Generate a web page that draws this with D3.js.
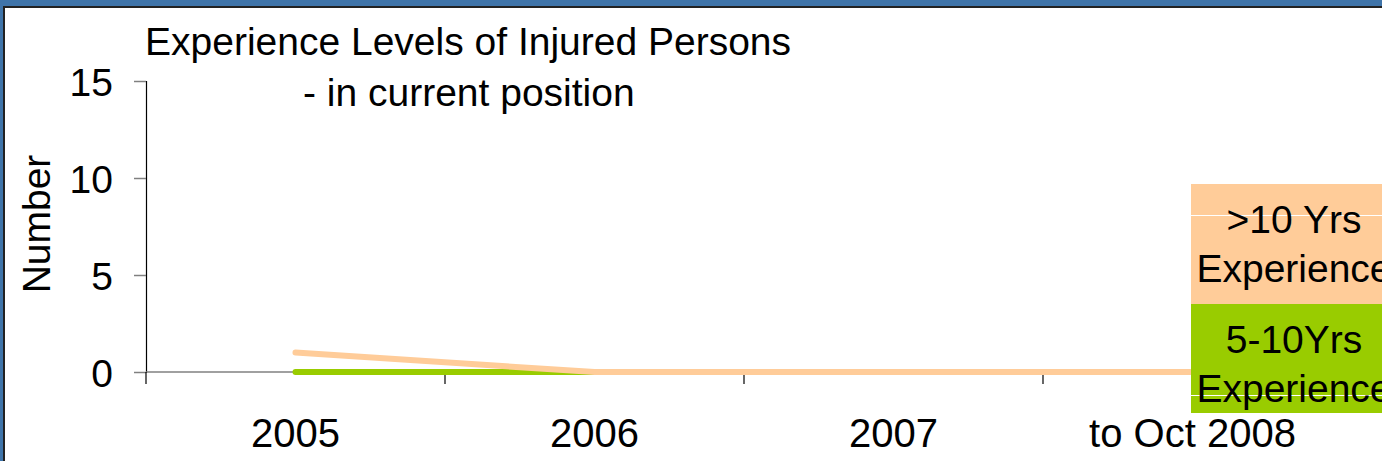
<!DOCTYPE html>
<html>
<head>
<meta charset="utf-8">
<script src="https://cdn.jsdelivr.net/npm/d3@7"></script>
<style>
  body { margin: 0; background: #3f74a9; overflow: hidden; }
  svg { display: block; }
  text { font-family: "Liberation Sans", Arial, sans-serif; fill: #000; }
</style>
</head>
<body>
<div class="chart"></div>
<script>

/////////////////////
// DATA            //
/////////////////////

var years = ['2005', '2006', '2007', 'to Oct 2008'];

var moreThan10 = [1, 0, 0, 0],
    fiveTo10 = [0, 0, 0, 0];

var yTicks = [0, 5, 10, 15];

var seriesNames = [['>10 Yrs', 'Experience'], ['5-10Yrs', 'Experience']];

/////////////////////
// SETTINGS        //
/////////////////////

var W = 1382, H = 461;
var margin = { left: 146, right: 40, top: 81, bottom: 89 };
var orange = '#ffcc99',
    green = '#99cc00';
var fontSize = '39px';

var svg = d3.select('.chart')
    .append('svg')
    .attr('width', W)
    .attr('height', H);

// panel with dark edge
svg.append('rect')
    .attr('x', 3).attr('y', 6)
    .attr('width', W).attr('height', H)
    .attr('fill', '#222');
svg.append('rect')
    .attr('x', 5).attr('y', 8)
    .attr('width', W).attr('height', H)
    .attr('fill', '#fff');

////////////
// SCALES //
////////////

var xScale = d3.scaleBand()
    .domain(years)
    .range([margin.left, W - margin.right]);

var yScale = d3.scaleLinear()
    .domain([0, 15])
    .range([H - margin.bottom, margin.top]);

//////////
// AXES //
//////////

var yAxis = d3.axisLeft(yScale)
    .tickValues(yTicks)
    .tickSize(12)
    .tickPadding(21);

var gy = svg.append('g')
    .attr('transform', 'translate(' + margin.left + ',0)')
    .call(yAxis);
gy.select('.domain').attr('stroke', '#000').attr('stroke-width', 1.2);
gy.selectAll('.tick line').attr('stroke', '#808080').attr('stroke-width', 1.5);
gy.selectAll('text').style('font-size', fontSize).attr('dy', '0.36em');

// x axis: gray baseline, black ticks at band boundaries
var y0 = yScale(0);
svg.append('line')
    .attr('x1', margin.left).attr('x2', W - margin.right)
    .attr('y1', y0).attr('y2', y0)
    .attr('stroke', '#808080').attr('stroke-width', 1.5);

var boundaries = years.map(function(d) { return xScale(d); })
    .concat([xScale(years[years.length - 1]) + xScale.bandwidth()]);

svg.selectAll('.xtick')
    .data(boundaries)
    .enter()
    .append('line')
    .attr('class', 'xtick')
    .attr('x1', function(d) { return d; })
    .attr('x2', function(d) { return d; })
    .attr('y1', y0)
    .attr('y2', y0 + 12)
    .attr('stroke', '#000')
    .attr('stroke-width', 1.2);

svg.selectAll('.xlabel')
    .data(years)
    .enter()
    .append('text')
    .attr('class', 'xlabel')
    .attr('x', function(d) { return xScale(d) + xScale.bandwidth() / 2; })
    .attr('y', y0 + 75)
    .attr('text-anchor', 'middle')
    .style('font-size', '40px')
    .text(function(d) { return d; });

////////////
// LINES  //
////////////

var line = d3.line()
    .x(function(d, i) { return xScale(years[i]) + xScale.bandwidth() / 2; })
    .y(function(d) { return yScale(d); });

svg.append('path')
    .datum(fiveTo10)
    .attr('d', line)
    .attr('fill', 'none')
    .attr('stroke', green)
    .attr('stroke-width', 6)
    .attr('stroke-linecap', 'round');

svg.append('path')
    .datum(moreThan10)
    .attr('d', line)
    .attr('fill', 'none')
    .attr('stroke', orange)
    .attr('stroke-width', 6)
    .attr('stroke-linecap', 'round');

////////////
// TITLES //
////////////

svg.append('text')
    .attr('x', 145).attr('y', 55)
    .style('font-size', fontSize)
    .text('Experience Levels of Injured Persons');

svg.append('text')
    .attr('x', 303).attr('y', 106)
    .style('font-size', fontSize)
    .text('- in current position');

svg.append('text')
    .attr('transform', 'translate(50,224) rotate(-90)')
    .attr('text-anchor', 'middle')
    .style('font-size', fontSize)
    .text('Number');

////////////
// LEGEND //
////////////

var legendX = 1191,
    legendW = 206,
    legendY = [184, 304],
    legendH = [120, 109];

var legend = svg.selectAll('.legend')
    .data(seriesNames)
    .enter()
    .append('g')
    .attr('class', 'legend');

legend.append('rect')
    .attr('x', legendX)
    .attr('y', function(d, i) { return legendY[i]; })
    .attr('width', legendW)
    .attr('height', function(d, i) { return legendH[i]; })
    .attr('fill', function(d, i) { return i === 0 ? orange : green; });

// faint white rules that run through the legend cells
legend.append('line')
    .attr('x1', legendX).attr('x2', W)
    .attr('y1', function(d, i) { return i === 0 ? 215.5 : 395.5; })
    .attr('y2', function(d, i) { return i === 0 ? 215.5 : 395.5; })
    .attr('stroke', '#fff')
    .attr('stroke-width', 1);

legend.each(function(d, i) {
    var g = d3.select(this);
    d.forEach(function(t, j) {
        g.append('text')
            .attr('x', legendX + legendW / 2)
            .attr('y', legendY[i] + 49 + j * 49)
            .attr('text-anchor', 'middle')
            .style('font-size', fontSize)
            .text(t);
    });
});

</script>
</body>
</html>
